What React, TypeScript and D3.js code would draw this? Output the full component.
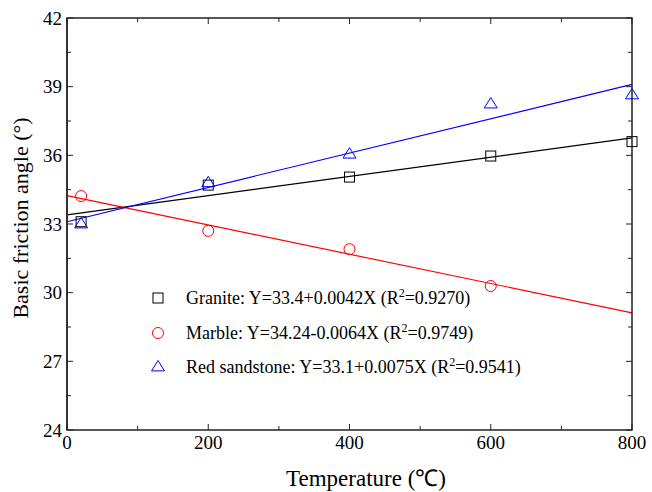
import React from 'react';
import * as d3 from 'd3';

const temperatures = [20, 200, 400, 600, 800];
const granite = [33.1, 34.7, 35.05, 35.97, 36.6];
const marble = [34.22, 32.7, 31.9, 30.29];
const redSandstone = [33.0, 34.8, 36.05, 38.24, 38.64];

const fits = [
  { name: 'Granite', a: 33.4, b: 0.0042, r2: '0.9270', label: 'Y=33.4+0.0042X', color: 'black', shape: 'square' },
  { name: 'Marble', a: 34.24, b: -0.0064, r2: '0.9749', label: 'Y=34.24-0.0064X', color: 'red', shape: 'circle' },
  { name: 'Red sandstone', a: 33.1, b: 0.0075, r2: '0.9541', label: 'Y=33.1+0.0075X', color: 'blue', shape: 'triangle' },
];
const seriesValues = [granite, marble, redSandstone];

const xTicks = [0, 200, 400, 600, 800];
const yTicks = [24, 27, 30, 33, 36, 39, 42];

const W = 652, H = 492;
const left = 67, right = 632, top = 18, bottom = 430;
const font = '"Liberation Serif", "Times New Roman", serif';

function Marker({ shape, x, y, color }: { shape: string; x: number; y: number; color: string }) {
  if (shape === 'square') {
    return <rect x={x - 5} y={y - 5} width={10} height={10} fill="none" stroke={color} strokeWidth={1} />;
  }
  if (shape === 'circle') {
    return <circle cx={x} cy={y} r={5.5} fill="none" stroke={color} strokeWidth={1} />;
  }
  const s = 6.5;
  return (
    <path
      d={`M${x},${y - s}L${x + s},${y + s * 0.6}L${x - s},${y + s * 0.6}Z`}
      fill="none"
      stroke={color}
      strokeWidth={1}
    />
  );
}

export default function App() {
  const x = d3.scaleLinear().domain([0, 800]).range([left, right]);
  const y = d3.scaleLinear().domain([24, 42]).range([bottom, top]);

  const xMinor = d3.range(100, 800, 200);
  const yMinor = d3.range(25.5, 42, 3);

  return (
    <svg width={W} height={H} style={{ position: 'absolute', left: 0, top: 0 }} fontFamily={font}>
      <rect width={W} height={H} fill="white" />

      {/* fit lines */}
      {fits.map((f) => (
        <path
          key={f.name}
          d={d3.line<number>().x((t) => x(t)).y((t) => y(f.a + f.b * t))([0, 800]) || ''}
          stroke={f.color}
          strokeWidth={1.2}
          fill="none"
        />
      ))}

      {/* points */}
      {fits.map((f, i) =>
        seriesValues[i].map((v, j) => (
          <Marker key={f.name + j} shape={f.shape} x={x(temperatures[j])} y={y(v)} color={f.color} />
        ))
      )}

      {/* frame */}
      <rect x={left} y={top} width={right - left} height={bottom - top} fill="none" stroke="#222" strokeWidth={1.5} />
      <line x1={left} x2={left} y1={top} y2={bottom} stroke="#333" strokeWidth={2} />

      {/* x ticks */}
      {xTicks.map((t) => (
        <g key={'x' + t}>
          <line x1={x(t)} x2={x(t)} y1={bottom} y2={bottom - 6} stroke="#222" />
          <line x1={x(t)} x2={x(t)} y1={top} y2={top + 6} stroke="#222" />
          <text x={x(t)} y={449} textAnchor="middle" fontSize={19}>
            {t}
          </text>
        </g>
      ))}
      {xMinor.map((t) => (
        <g key={'xm' + t}>
          <line x1={x(t)} x2={x(t)} y1={bottom} y2={bottom - 4} stroke="#222" />
          <line x1={x(t)} x2={x(t)} y1={top} y2={top + 4} stroke="#222" />
        </g>
      ))}

      {/* y ticks */}
      {yTicks.map((t) => (
        <g key={'y' + t}>
          <line x1={left} x2={left + 6} y1={y(t)} y2={y(t)} stroke="#222" />
          <line x1={right} x2={right - 6} y1={y(t)} y2={y(t)} stroke="#222" />
          <text x={62} y={y(t) + 6.5} textAnchor="end" fontSize={19}>
            {t}
          </text>
        </g>
      ))}
      {yMinor.map((t) => (
        <g key={'ym' + t}>
          <line x1={left} x2={left + 4} y1={y(t)} y2={y(t)} stroke="#222" />
          <line x1={right} x2={right - 4} y1={y(t)} y2={y(t)} stroke="#222" />
        </g>
      ))}

      {/* axis titles */}
      <text x={366} y={486} textAnchor="middle" fontSize={23}>
        Temperature (℃)
      </text>
      <text transform="translate(28, 218) rotate(-90)" textAnchor="middle" fontSize={22}>
        Basic friction angle (°)
      </text>

      {/* legend */}
      {fits.map((f, i) => {
        const ly = [298, 333, 367][i];
        return (
          <g key={'lg' + f.name}>
            <Marker shape={f.shape} x={158} y={ly} color={f.color} />
            <text x={186} y={ly + 6} fontSize={18}>
              {f.name}: {f.label} (R<tspan dy={-7} fontSize={12}>2</tspan>
              <tspan dy={7}>={f.r2})</tspan>
            </text>
          </g>
        );
      })}
    </svg>
  );
}
